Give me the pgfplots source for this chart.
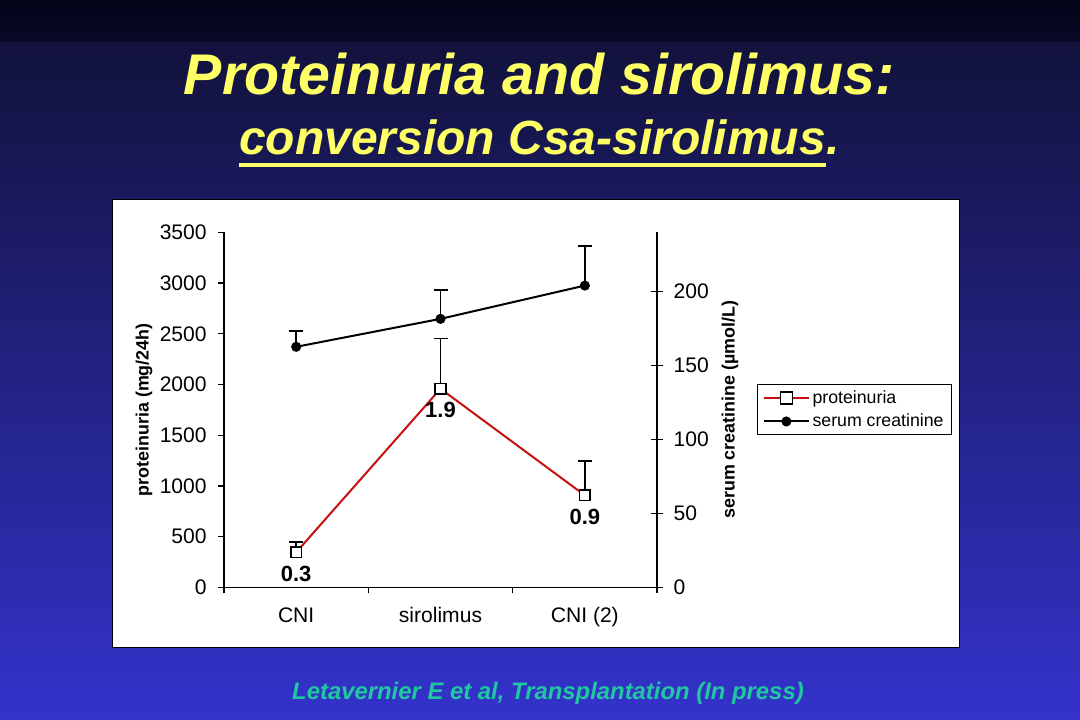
\documentclass[border=0pt]{standalone}
\usepackage{fontspec}
\setmainfont{Liberation Sans}
\usepackage{pgfplots}
\usepackage{pgfplotstable}
\pgfplotsset{compat=1.18}

\definecolor{slidetop}{RGB}{3,3,24}
\definecolor{slidedark}{RGB}{18,18,60}
\definecolor{slidemid}{RGB}{38,38,160}
\definecolor{slidebot}{RGB}{51,51,204}
\definecolor{titleyellow}{RGB}{255,255,102}
\definecolor{reftext}{RGB}{32,200,160}
\definecolor{protred}{RGB}{200,16,16}

% proteinuria (mg/24h), upper error
\pgfplotstableread{
x y err lab
0 345 105 0.3
1 1958 494 1.9
2 907 338 0.9
}\proteinuria

% serum creatinine (umol/L), upper error
\pgfplotstableread{
x y err
0 162.6 10.6
1 181.5 19.5
2 204 26.8
}\creatinine

\begin{document}
\begin{tikzpicture}
\useasboundingbox (0,0) rectangle (810pt,540pt);
% slide background
\shade[top color=slidetop, bottom color=slidetop!60!slidedark] (0,507.75pt) rectangle (810pt,540pt);
\shade[top color=slidedark, middle color=slidemid, bottom color=slidebot] (0,0) rectangle (810pt,507.75pt);

% titles
\node[anchor=base, text=titleyellow, inner sep=0, font=\fontsize{43}{50}\selectfont\bfseries\itshape]
  at (404.25pt,468.75pt) {Proteinuria and sirolimus:};
\node[anchor=base, text=titleyellow, inner sep=0, font=\fontsize{36}{44}\selectfont\bfseries\itshape]
  (t2) at (399.4pt,423.75pt) {conversion Csa-sirolimus};
\node[anchor=base west, text=titleyellow, inner sep=0, font=\fontsize{36}{44}\selectfont\bfseries\itshape]
  at (t2.base east) {.};
\draw[titleyellow, line width=2.6pt] ([yshift=-7.5pt]t2.base west) -- ([yshift=-7.5pt]t2.base east);

\node[anchor=base, text=reftext, inner sep=0, font=\fontsize{17.9}{20}\selectfont\bfseries\itshape]
  at (411pt,15.75pt) {Letavernier E et al, Transplantation (In press)};

% chart area
\fill[white, draw=black, line width=0.75pt] (84pt,54pt) rectangle (719.25pt,390pt);

\pgfplotsset{
  every axis/.append style={
    at={(168pt,99.5pt)}, anchor=south west,
    scale only axis, width=324.75pt, height=266.25pt,
    xmin=-0.5, xmax=2.5,
    tick style={black, line width=1pt},
    axis line style={line width=1pt},
    tick label style={font=\fontsize{15.8}{18}\selectfont},
    /pgf/number format/assume math mode=true,
    /pgf/number format/1000 sep={},
    scaled y ticks=false,
  },
}

\begin{axis}[
  ymin=0, ymax=3500,
  axis x line*=bottom, axis y line*=left,
  xtick={-0.5,0.5,1.5,2.5},
  xticklabels={CNI,sirolimus,CNI (2)},
  x tick label as interval,
  xticklabel style={text height=11.5pt, text depth=3.5pt, yshift=-6.5pt},
  yticklabel style={xshift=-5pt},
  ytick={0,500,...,3500},
  tick align=outside, major tick length=4.5pt,
  ylabel={proteinuria (mg/24h)},
  ylabel style={font=\fontsize{13.4}{16}\selectfont\bfseries,
    at={(axis description cs:-0.1848,0.5)}, anchor=center},
]
\addplot[protred, line width=1.5pt,
  mark=square*, mark size=4pt,
  mark options={fill=white, draw=black, line width=1.1pt},
  nodes near coords, point meta=explicit symbolic,
  every node near coord/.style={anchor=center, yshift=-16pt, black,
    font=\fontsize{16.5}{18}\selectfont\bfseries},
  error bars/.cd, y dir=plus, y explicit,
  error bar style={black, line width=1.3pt},
  error mark options={rotate=90, black, mark size=5.25pt, line width=1.3pt},
] table[x=x, y=y, y error plus=err, meta=lab] {\proteinuria};
\end{axis}

\begin{axis}[
  hide x axis,
  ymin=0, ymax=240,
  axis y line*=right,
  ytick={0,50,...,200},
  yticklabel style={xshift=4.5pt},
  tick align=center, major tick length=9pt,
  ylabel={serum creatinine (µmol/L)},
  ylabel style={font=\fontsize{13.4}{16}\selectfont\bfseries,
    at={(axis description cs:1.1686,0.5)}, anchor=center},
  legend style={at={(axis description cs:1.231,0.5727)}, anchor=north west,
    draw=black, line width=0.75pt, font=\fontsize{13.3}{16}\selectfont,
    inner xsep=4pt, inner ysep=2.5pt, row sep=2.5pt},
  legend cell align=left,
  legend image code/.code={
    \draw[mark repeat=2, mark phase=2, #1] plot coordinates {(0pt,0pt) (16.9pt,0pt) (33.75pt,0pt)};},
]
\addlegendimage{protred, line width=1.5pt, mark=square*, mark size=4.5pt,
  mark options={fill=white, draw=black, line width=1.1pt}}
\addlegendentry{proteinuria}
\addplot[black, line width=1.5pt, mark=*, mark size=3pt,
  error bars/.cd, y dir=plus, y explicit,
  error bar style={black, line width=1.3pt},
  error mark options={rotate=90, black, mark size=5.25pt, line width=1.3pt},
] table[x=x, y=y, y error plus=err] {\creatinine};
\addlegendentry{serum creatinine}
\end{axis}
\end{tikzpicture}
\end{document}
